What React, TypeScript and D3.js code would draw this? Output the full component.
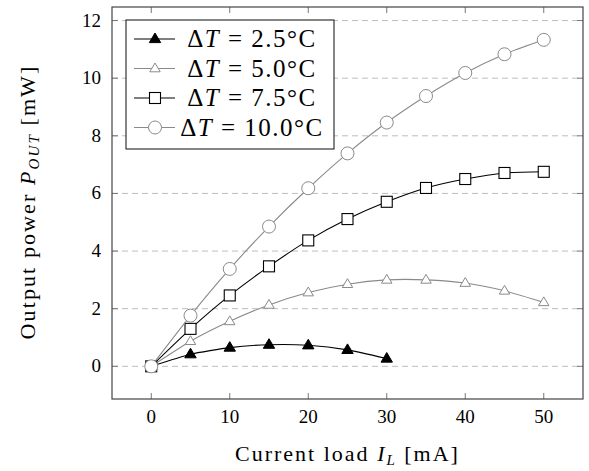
import React from 'react'
import * as d3 from 'd3'

const currents = [0, 5, 10, 15, 20, 25, 30, 35, 40, 45, 50]
const power25 = [0, 0.42, 0.65, 0.75, 0.73, 0.57, 0.27]
const power50 = [0, 0.87, 1.56, 2.13, 2.56, 2.85, 3.0, 3.0, 2.89, 2.62, 2.22]
const power75 = [0, 1.3, 2.46, 3.47, 4.37, 5.11, 5.71, 6.19, 6.5, 6.71, 6.75]
const power100 = [0, 1.76, 3.38, 4.85, 6.18, 7.39, 8.46, 9.38, 10.18, 10.83, 11.33]
const xTicks = [0, 10, 20, 30, 40, 50]
const yTicks = [0, 2, 4, 6, 8, 10, 12]
const legendLabels = ['2.5', '5.0', '7.5', '10.0']

const W = 589, H = 471
const left = 112, right = 583, top = 7, bottom = 399
const GRAY = '#8a8a8a'
const FONT = "'Liberation Serif', 'Times New Roman', serif"

type Series = { label: string, values: number[], color: string, marker: string }

const series: Series[] = [
  { label: legendLabels[0], values: power25, color: '#000', marker: 'tri-filled' },
  { label: legendLabels[1], values: power50, color: GRAY, marker: 'tri-open' },
  { label: legendLabels[2], values: power75, color: '#000', marker: 'square' },
  { label: legendLabels[3], values: power100, color: GRAY, marker: 'circle' },
]

function Marker({ kind, x, y, color }: { kind: string, x: number, y: number, color: string }) {
  if (kind === 'tri-filled' || kind === 'tri-open') {
    const r = kind === 'tri-filled' ? 6 : 5.5
    const pts = [[x, y - r], [x + r * 0.95, y + r * 0.6], [x - r * 0.95, y + r * 0.6]]
    return <polygon points={pts.map(p => p.join(',')).join(' ')}
      fill={kind === 'tri-filled' ? '#000' : '#fff'} stroke={color} strokeWidth={1} />
  }
  if (kind === 'square') {
    return <rect x={x - 5.5} y={y - 5.5} width={11} height={11} fill="#fff" stroke={color} strokeWidth={1.1} />
  }
  return <circle cx={x} cy={y} r={6.5} fill="#fff" stroke={color} strokeWidth={1} />
}

export default function App() {
  const x = d3.scaleLinear().domain([-5, 55]).range([left, right])
  const y = d3.scaleLinear().domain([-1.134, 12.47]).range([bottom, top])

  const line = d3.line<[number, number]>()
    .x(d => x(d[0]))
    .y(d => y(d[1]))
    .curve(d3.curveCardinal.tension(0.45))

  const legX = 126, legY = 20, legW = 208, legH = 129
  const rowH = 29.5

  return (
    <svg width={W} height={H} style={{ position: 'absolute', left: 0, top: 0, background: '#fff', fontFamily: FONT }}>
      <rect width={W} height={H} fill="#fff" />
      {/* grid */}
      {yTicks.map(t => (
        <line key={'g' + t} x1={left} x2={right} y1={y(t)} y2={y(t)}
          stroke="#bdbdbd" strokeWidth={1} strokeDasharray="6,4" />
      ))}
      {/* ticks */}
      {xTicks.map(t => (
        <g key={'xt' + t} stroke="#777" strokeWidth={1}>
          <line x1={x(t)} x2={x(t)} y1={bottom} y2={bottom - 6} />
          <line x1={x(t)} x2={x(t)} y1={top} y2={top + 6} />
        </g>
      ))}
      {yTicks.map(t => (
        <g key={'yt' + t} stroke="#777" strokeWidth={1}>
          <line x1={left} x2={left + 6} y1={y(t)} y2={y(t)} />
          <line x1={right} x2={right - 6} y1={y(t)} y2={y(t)} />
        </g>
      ))}
      {/* tick labels */}
      {xTicks.map(t => (
        <text key={'xl' + t} x={x(t)} y={bottom + 24} fontSize={19} textAnchor="middle">{t}</text>
      ))}
      {yTicks.map(t => (
        <text key={'yl' + t} x={left - 11} y={y(t) + 6} fontSize={19} textAnchor="end">{t}</text>
      ))}
      {/* series */}
      {series.map(s => {
        const pts = s.values.map((v, i) => [currents[i], v] as [number, number])
        return (
          <g key={s.label}>
            <path d={line(pts) || ''} fill="none" stroke={s.color} strokeWidth={1.1} />
            {pts.map((p, i) => <Marker key={i} kind={s.marker} x={x(p[0])} y={y(p[1])} color={s.color} />)}
          </g>
        )
      })}
      {/* frame */}
      <rect x={left} y={top} width={right - left} height={bottom - top} fill="none" stroke="#444" strokeWidth={1.2} />
      {/* legend */}
      <rect x={legX} y={legY} width={legW} height={legH} fill="#fff" stroke="#222" strokeWidth={1.1} />
      {series.map((s, i) => {
        const cy = legY + 19 + i * rowH
        return (
          <g key={'leg' + i}>
            <line x1={legX + 8} x2={legX + 49} y1={cy} y2={cy} stroke={s.color} strokeWidth={1.1} />
            <Marker kind={s.marker} x={legX + 29} y={cy} color={s.color} />
            <text x={legX + 126} y={cy + 8} fontSize={25} letterSpacing={1.5} textAnchor="middle">
              Δ<tspan fontStyle="italic">T</tspan> = {s.label}°C
            </text>
          </g>
        )
      })}
      {/* axis labels */}
      <text x={(left + right) / 2} y={461} fontSize={22} letterSpacing={2} textAnchor="middle">
        Current load <tspan fontStyle="italic">I</tspan><tspan fontStyle="italic" fontSize={15} dy={4}>L</tspan><tspan dy={-4}> [mA]</tspan>
      </text>
      <text transform={`translate(35,202) rotate(-90)`} fontSize={22} letterSpacing={2.1} textAnchor="middle">
        Output power <tspan fontStyle="italic">P</tspan><tspan fontStyle="italic" fontSize={15} dy={4}>OUT</tspan><tspan dy={-4}> [mW]</tspan>
      </text>
    </svg>
  )
}
